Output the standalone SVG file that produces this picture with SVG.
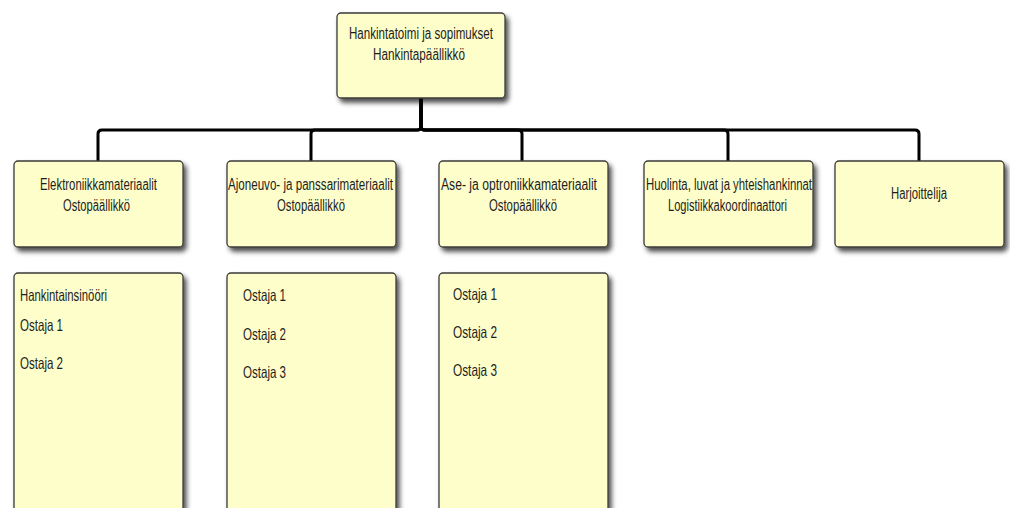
<svg xmlns="http://www.w3.org/2000/svg" width="1010" height="508" viewBox="0 0 1010 508">
<style>
.box{fill:#fefecb;stroke:#3a3a3a;stroke-width:1.3;filter:url(#sh)}
.t{font-family:"Liberation Sans",Arial,sans-serif;font-size:16px;fill:#1e1e1e;text-anchor:middle}
.l{font-family:"Liberation Sans",Arial,sans-serif;font-size:16.5px;fill:#1e1e1e}
.c{fill:none;stroke:#000;stroke-width:3;stroke-linejoin:round}
</style>
<defs>
<filter id="sh" x="-10%" y="-10%" width="130%" height="140%">
<feDropShadow dx="3" dy="4" stdDeviation="2.5" flood-color="#000" flood-opacity="0.7"/>
</filter>
</defs>
<rect width="1010" height="508" fill="#fff"/>
<g id="connectors">
<path class="c" d="M421,98 V126 Q421,130 417,130 H102 Q98,130 98,134 V161"/>
<path class="c" d="M421,98 V126 Q421,130 417,130 H315 Q311,130 311,134 V161"/>
<path class="c" d="M421,98 V126 Q421,130 425,130 H518 Q522,130 522,134 V161"/>
<path class="c" d="M421,98 V126 Q421,130 425,130 H724 Q728,130 728,134 V161"/>
<path class="c" d="M421,98 V126 Q421,130 425,130 H915 Q919,130 919,134 V161"/>
</g>
<g id="root">
<rect class="box" x="337" y="13" width="168" height="85" rx="4"/>
<text class="t" x="421" y="39" textLength="144" lengthAdjust="spacingAndGlyphs">Hankintatoimi ja sopimukset</text>
<text class="t" x="419" y="60" textLength="92" lengthAdjust="spacingAndGlyphs">Hankintapäällikkö</text>
</g>
<g id="elektroniikka">
<rect class="box" x="14" y="161" width="169" height="86" rx="4"/>
<text class="t" x="98.5" y="190" textLength="117" lengthAdjust="spacingAndGlyphs">Elektroniikkamateriaalit</text>
<text class="t" x="96.5" y="211" textLength="67" lengthAdjust="spacingAndGlyphs">Ostopäällikkö</text>
</g>
<g id="ajoneuvo">
<rect class="box" x="227" y="161" width="169" height="86" rx="4"/>
<text class="t" x="310.5" y="190" textLength="165" lengthAdjust="spacingAndGlyphs">Ajoneuvo- ja panssarimateriaalit</text>
<text class="t" x="311" y="211" textLength="68" lengthAdjust="spacingAndGlyphs">Ostopäällikkö</text>
</g>
<g id="ase">
<rect class="box" x="439" y="161" width="169" height="86" rx="4"/>
<text class="t" x="519" y="190" textLength="156" lengthAdjust="spacingAndGlyphs">Ase- ja optroniikkamateriaalit</text>
<text class="t" x="523" y="211" textLength="68" lengthAdjust="spacingAndGlyphs">Ostopäällikkö</text>
</g>
<g id="huolinta">
<rect class="box" x="644" y="161" width="169" height="86" rx="4"/>
<text class="t" x="729" y="190" textLength="166" lengthAdjust="spacingAndGlyphs">Huolinta, luvat ja yhteishankinnat</text>
<text class="t" x="727.5" y="211" textLength="119" lengthAdjust="spacingAndGlyphs">Logistiikkakoordinaattori</text>
</g>
<g id="harjoittelija">
<rect class="box" x="835" y="161" width="169" height="86" rx="4"/>
<text class="t" x="919" y="199" textLength="56" lengthAdjust="spacingAndGlyphs">Harjoittelija</text>
</g>
<g id="elektroniikka-staff">
<rect class="box" x="14" y="273" width="169" height="260" rx="4"/>
<text class="l" x="20" y="301" textLength="87" lengthAdjust="spacingAndGlyphs">Hankintainsinööri</text>
<text class="l" x="20" y="331" textLength="43" lengthAdjust="spacingAndGlyphs">Ostaja 1</text>
<text class="l" x="20" y="369" textLength="43" lengthAdjust="spacingAndGlyphs">Ostaja 2</text>
</g>
<g id="ajoneuvo-staff">
<rect class="box" x="227" y="273" width="169" height="260" rx="4"/>
<text class="l" x="243" y="301" textLength="43" lengthAdjust="spacingAndGlyphs">Ostaja 1</text>
<text class="l" x="243" y="340" textLength="43" lengthAdjust="spacingAndGlyphs">Ostaja 2</text>
<text class="l" x="243" y="378" textLength="43" lengthAdjust="spacingAndGlyphs">Ostaja 3</text>
</g>
<g id="ase-staff">
<rect class="box" x="439" y="273" width="169" height="260" rx="4"/>
<text class="l" x="453" y="300" textLength="44" lengthAdjust="spacingAndGlyphs">Ostaja 1</text>
<text class="l" x="453" y="338" textLength="44" lengthAdjust="spacingAndGlyphs">Ostaja 2</text>
<text class="l" x="453" y="376" textLength="44" lengthAdjust="spacingAndGlyphs">Ostaja 3</text>
</g>
</svg>
